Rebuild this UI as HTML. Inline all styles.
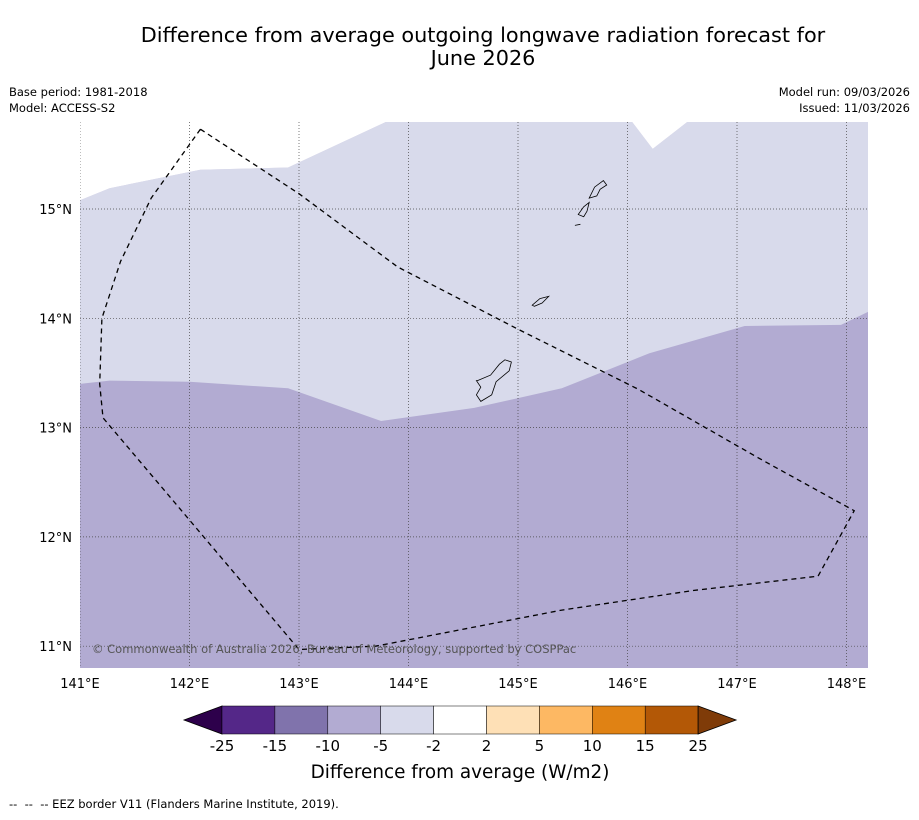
<!DOCTYPE html>
<html><head><meta charset="utf-8"><style>
body{margin:0;background:#fff;font-family:"DejaVu Sans",sans-serif;}
</style></head><body>
<svg id="chart" width="919" height="816" xmlns="http://www.w3.org/2000/svg" font-family="DejaVu Sans, sans-serif">
<rect width="919" height="816" fill="#fff"/>
<text x="483" y="42" font-size="20.8" text-anchor="middle">Difference from average outgoing longwave radiation forecast for</text>
<text x="483" y="65" font-size="20.8" text-anchor="middle">June 2026</text>
<text x="9" y="96" font-size="11.5">Base period: 1981-2018</text>
<text x="9" y="112" font-size="11.5">Model: ACCESS-S2</text>
<text x="910" y="96" font-size="11.5" text-anchor="end">Model run: 09/03/2026</text>
<text x="910" y="112" font-size="11.5" text-anchor="end">Issued: 11/03/2026</text>
<defs><clipPath id="mapclip"><rect x="80" y="122" width="788" height="546"/></clipPath></defs>
<g id="map" clip-path="url(#mapclip)"></g>
<g id="axes"></g>
<g id="cbar"></g>
<text x="460" y="778" font-size="18.4" text-anchor="middle">Difference from average (W/m2)</text>
<text x="9" y="808" font-size="11.5" xml:space="preserve">--  --  -- EEZ border V11 (Flanders Marine Institute, 2019).</text>
</svg>
<script>
const NS="http://www.w3.org/2000/svg";
const lonTicks=[141,142,143,144,145,146,147,148];
const latTicks=[11,12,13,14,15];
const lightRegion=[[141,15.08],[141.27,15.19],[142.1,15.36],[142.9,15.38],[143.8,15.8],[146.04,15.8],[146.23,15.55],[146.55,15.8],[148.2,15.8],[148.2,14.06],[147.95,13.94],[147.07,13.93],[146.2,13.68],[145.4,13.36],[144.6,13.18],[143.75,13.06],[142.9,13.36],[142.0,13.42],[141.27,13.43],[141,13.4]];
const eez=[[142.1,15.73],[143.0,15.14],[143.9,14.47],[145.0,13.9],[146.1,13.35],[147.2,12.72],[148.07,12.24],[147.74,11.64],[146.6,11.51],[145.4,11.33],[143.7,11.0],[143.0,10.97],[141.21,13.09],[141.18,13.4],[141.2,14.0],[141.37,14.52],[141.65,15.1],[142.1,15.73]];
const islands=[
 [[144.63,13.43],[144.75,13.48],[144.83,13.58],[144.88,13.62],[144.94,13.6],[144.92,13.52],[144.8,13.42],[144.76,13.3],[144.66,13.24],[144.62,13.3],[144.66,13.37],[144.62,13.43]],
 [[145.13,14.12],[145.2,14.18],[145.28,14.2],[145.22,14.14],[145.15,14.11]],
 [[145.52,14.85],[145.57,14.86]],
 [[145.55,14.95],[145.6,15.02],[145.65,15.06],[145.63,14.98],[145.6,14.93]],
 [[145.65,15.1],[145.7,15.2],[145.78,15.26],[145.81,15.22],[145.75,15.18],[145.72,15.12]]
];
const cbLevels=["-25","-15","-10","-5","-2","2","5","10","15","25"];
const cbColors=["#542788","#8073ac","#b2abd2","#d8daeb","#ffffff","#fee0b6","#fdb863","#e08214","#b35806"];
const cbLow="#2d004b", cbHigh="#7f3b08";
const X=lon=>80+(lon-141)*109.5;
const Y=lat=>209+(15-lat)*109.3;
const pts=a=>a.map(p=>X(p[0]).toFixed(1)+","+Y(p[1]).toFixed(1)).join(" ");
function mk(tag,attrs,parent){const e=document.createElementNS(NS,tag);for(const k in attrs)e.setAttribute(k,attrs[k]);parent.appendChild(e);return e;}
const map=document.getElementById("map");
let bg=mk("rect",{x:80,y:122,width:788,height:546,fill:"#b2abd2"},map);


let lr=mk("polygon",{points:pts(lightRegion),fill:"#d8daeb"},map);


let wt=mk("polygon",{points:pts([[141,15.08],[141,15.9],[143.8,15.9],[143.8,15.8],[142.9,15.38],[142.1,15.36],[141.27,15.19]]),fill:"#fff"},map);


let wt2=mk("polygon",{points:pts([[146.04,15.8],[146.23,15.55],[146.55,15.8]]),fill:"#fff"},map);


lonTicks.forEach(l=>{let g=mk("line",{x1:X(l),x2:X(l),y1:122,y2:668,stroke:"#444","stroke-width":0.7,"stroke-dasharray":"1,2"},map);

});
latTicks.forEach(l=>{let g=mk("line",{x1:80,x2:868,y1:Y(l),y2:Y(l),stroke:"#444","stroke-width":0.7,"stroke-dasharray":"1,2"},map);

});
islands.forEach(a=>{let i=mk(a.length>2?"polygon":"polyline",{points:pts(a),fill:"#d8daeb",stroke:"#000","stroke-width":0.8},map);

});
let ez=mk("polyline",{points:pts(eez),fill:"none",stroke:"#000","stroke-width":1.3,"stroke-dasharray":"5,4"},map);


let cp=mk("text",{x:92,y:653,"font-size":11.5,fill:"#555"},map);cp.textContent="© Commonwealth of Australia 2026, Bureau of Meteorology, supported by COSPPac";


const axes=document.getElementById("axes");
lonTicks.forEach(l=>{let t=mk("text",{x:X(l),y:688,"font-size":13,"text-anchor":"middle"},axes);t.textContent=l+"°E";

});
latTicks.forEach(l=>{let t=mk("text",{x:72,y:Y(l)+5,"font-size":13,"text-anchor":"end"},axes);t.textContent=l+"°N";

});
const cb=document.getElementById("cbar");
const cx0=222,cw=52.9,cy=706,ch=28;
let tl=mk("polygon",{points:`${cx0},${cy} ${cx0-38},${cy+ch/2} ${cx0},${cy+ch}`,fill:cbLow,stroke:"#000","stroke-width":0.8},cb);


cbColors.forEach((c,i)=>{let r=mk("rect",{x:cx0+i*cw,y:cy,width:cw,height:ch,fill:c,stroke:"#000","stroke-width":0.5},cb);

});
const xe=cx0+cbColors.length*cw;
let th=mk("polygon",{points:`${xe},${cy} ${xe+38},${cy+ch/2} ${xe},${cy+ch}`,fill:cbHigh,stroke:"#000","stroke-width":0.8},cb);


cbLevels.forEach((v,i)=>{let t=mk("text",{x:cx0+i*cw,y:751,"font-size":15,"text-anchor":"middle"},cb);t.textContent=v;

});
</script>
</body></html>
